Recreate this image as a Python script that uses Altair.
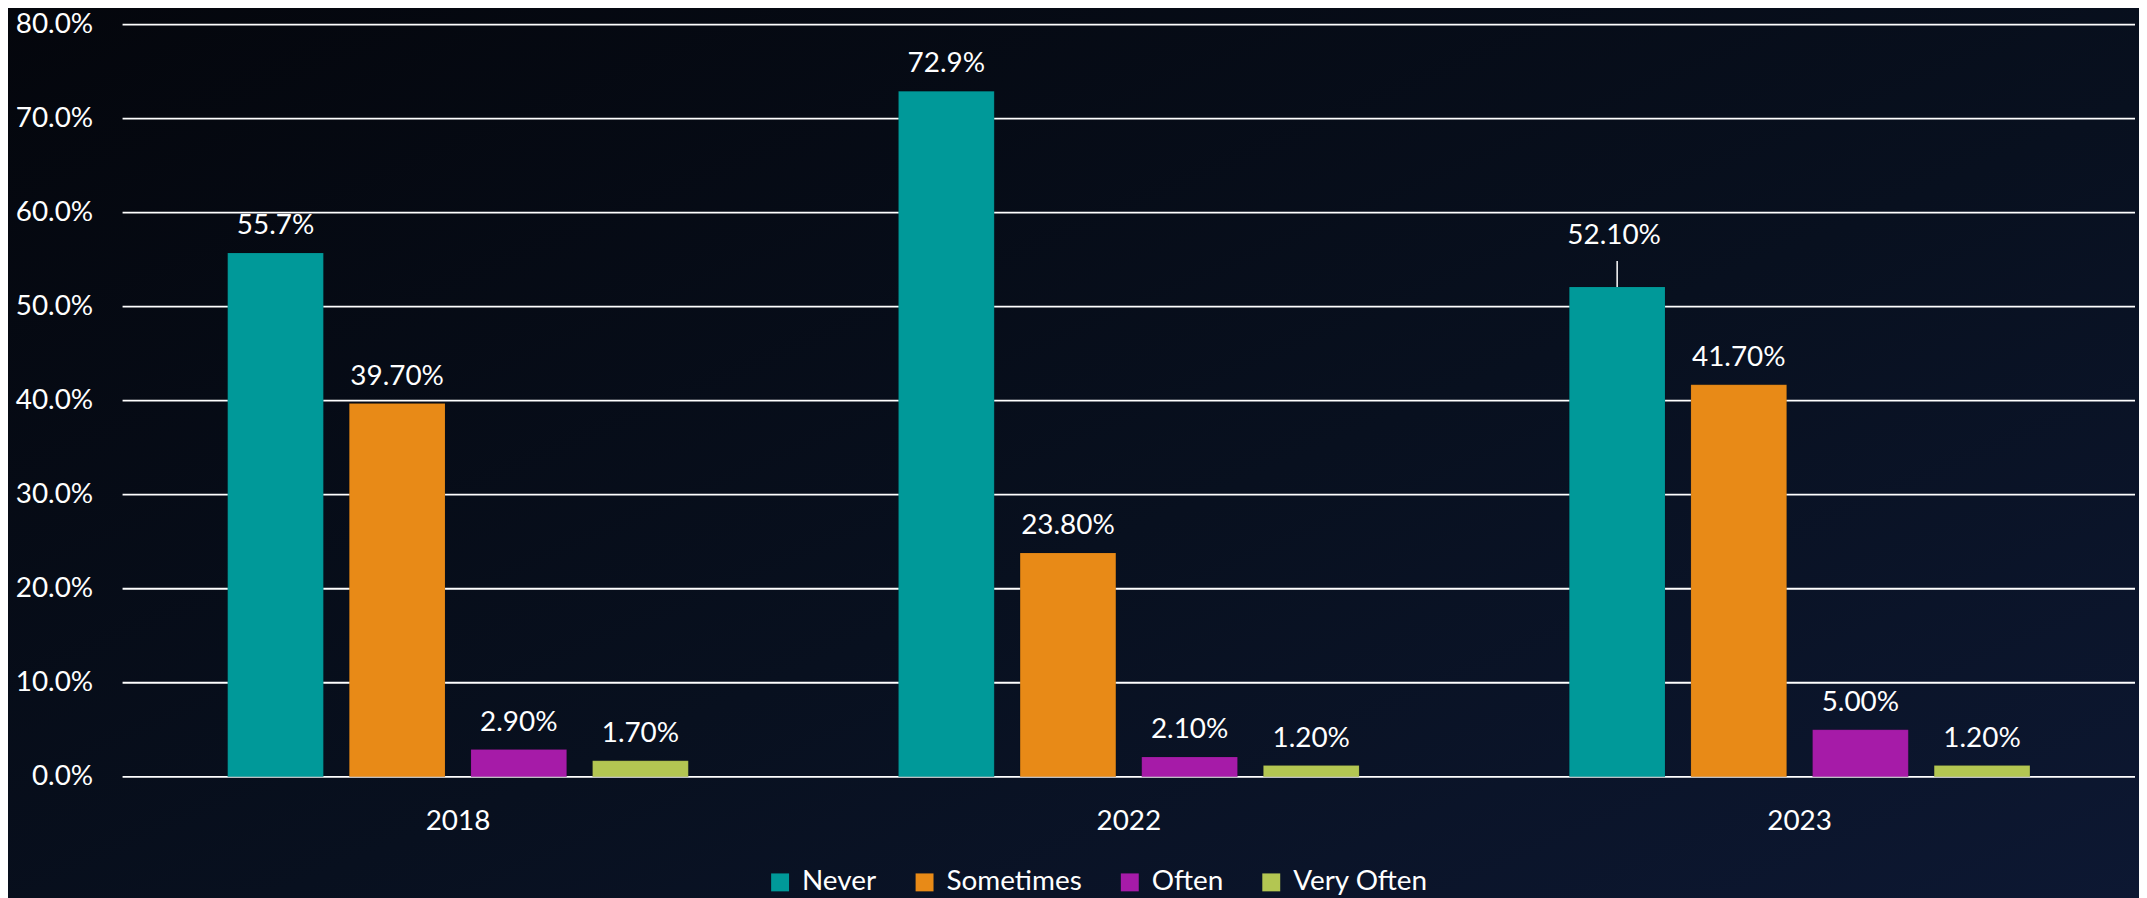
import altair as alt
import pandas as pd

# ---- data ----
years = ["2018", "2022", "2023"]
responses = ["Never", "Sometimes", "Often", "Very Often"]
never = [55.7, 72.9, 52.1]
sometimes = [39.7, 23.8, 41.7]
often = [2.9, 2.1, 5.0]
very_often = [1.7, 1.2, 1.2]
never_lbl = ["55.7%", "72.9%", "52.10%"]
sometimes_lbl = ["39.70%", "23.80%", "41.70%"]
often_lbl = ["2.90%", "2.10%", "5.00%"]
very_often_lbl = ["1.70%", "1.20%", "1.20%"]
colors = ["#009999", "#E88A17", "#A61BA8", "#B3C652"]
y_ticks = [0, 10, 20, 30, 40, 50, 60, 70, 80]

rows = []
for resp, vals, lbls in zip(responses,
                            [never, sometimes, often, very_often],
                            [never_lbl, sometimes_lbl, often_lbl, very_often_lbl]):
    for yr, v, l in zip(years, vals, lbls):
        rows.append({"Year": yr, "Response": resp, "Value": v, "Label": l})
df = pd.DataFrame(rows)
grid_df = pd.DataFrame({"Value": y_ticks})

FONT = "Lato"
W, H = 2020, 755

x_enc = alt.X("Year:N", sort=years, title=None,
              scale=alt.Scale(paddingInner=0, paddingOuter=0),
              axis=alt.Axis(labelAngle=0, domain=False, ticks=False, grid=False,
                            labelFontSize=28, labelColor="white", labelPadding=31,
                            labelFont=FONT, zindex=1))
xoff_enc = alt.XOffset("Response:N", sort=responses,
                       scale=alt.Scale(paddingInner=0.213, paddingOuter=0.864))
y_scale = alt.Scale(domain=[0, 80], nice=False, zero=True)
y_axis = alt.Axis(values=y_ticks, labelExpr="format(datum.value, '.1f') + '%'",
                  domain=False, ticks=False, grid=False, labelFontSize=28,
                  labelColor="white", labelPadding=30, labelFont=FONT, zindex=1)
y_enc = alt.Y("Value:Q", title=None, scale=y_scale, axis=y_axis)

base = alt.Chart(df)

bg = alt.Chart(alt.Data(values=[{"a": 1}])).mark_rect(
    fill=alt.LinearGradient(gradient="linear",
                            stops=[alt.GradientStop(color="#04060c", offset=0),
                                   alt.GradientStop(color="#08101f", offset=0.55),
                                   alt.GradientStop(color="#0d1833", offset=1)],
                            x1=0, y1=0, x2=1, y2=1)
).encode(x=alt.value(-120), x2=alt.value(2040), y=alt.value(-20), y2=alt.value(900))

grid = alt.Chart(grid_df).mark_rule(color="#ffffff", strokeWidth=1.8).encode(
    y=alt.Y("Value:Q", title=None, scale=y_scale, axis=y_axis)
)

bars = base.mark_bar(stroke="#00000033", strokeWidth=0.5).encode(
    x=x_enc, xOffset=xoff_enc, y=y_enc,
    color=alt.Color("Response:N", sort=responses,
                    scale=alt.Scale(domain=responses, range=colors),
                    legend=alt.Legend(title=None, orient="none", direction="horizontal",
                                      columns=4, legendX=646, legendY=847,
                                      symbolType="square", symbolSize=324,
                                      symbolStrokeWidth=0, labelFontSize=28,
                                      labelColor="white", labelFont=FONT,
                                      labelOffset=8, columnPadding=34, zindex=1))
)

is_lifted = (alt.datum.Year == "2023") & (alt.datum.Response == "Never")

labels = base.mark_text(baseline="bottom", dy=-13, fontSize=28, color="white",
                        font=FONT).encode(
    x=alt.X("Year:N", sort=years), xOffset=alt.XOffset("Response:N", sort=responses),
    y="Value:Q", text="Label:N"
).transform_filter(~is_lifted)

lifted = base.mark_text(baseline="bottom", dy=-37, dx=-3, fontSize=28, color="white",
                        font=FONT).encode(
    x=alt.X("Year:N", sort=years), xOffset=alt.XOffset("Response:N", sort=responses),
    y="Value:Q", text="Label:N"
).transform_filter(is_lifted)

leader = base.mark_rule(color="white", strokeWidth=1.5, y2Offset=-26).encode(
    x=alt.X("Year:N", sort=years), xOffset=alt.XOffset("Response:N", sort=responses),
    y="Value:Q", y2="Value:Q"
).transform_filter(is_lifted)

chart = alt.layer(bg, grid, bars, labels, lifted, leader).properties(
    width=W, height=H,
    autosize=alt.AutoSizeParams(type="none"),
    padding={"left": 115, "top": 15, "right": 4, "bottom": 120},
    background="#070b17",
).configure_view(stroke=None)

chart.save("out.html", embed_options={"renderer": "svg", "actions": False})
